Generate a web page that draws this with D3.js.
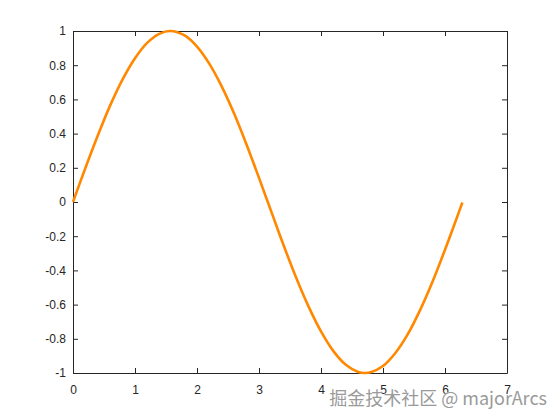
<!DOCTYPE html>
<html><head><meta charset="utf-8">
<script src="https://cdn.jsdelivr.net/npm/d3@7"></script>
<style>html,body{margin:0;padding:0;background:#fff;}svg{display:block;}</style>
</head><body>
<svg id="c" width="560" height="420"></svg>
<script>
const xValues = [0,0.2,0.4,0.6,0.8,1.0,1.2,1.4,1.57,1.8,2.0,2.2,2.4,2.6,2.8,3.0,3.2,3.4,3.6,3.8,4.0,4.2,4.4,4.6,4.71,4.8,5.0,5.2,5.4,5.6,5.8,6.0,6.2,6.28];
const yValues = [0,0.199,0.389,0.565,0.717,0.841,0.932,0.985,1.0,0.974,0.909,0.808,0.675,0.516,0.335,0.141,-0.058,-0.256,-0.443,-0.612,-0.757,-0.872,-0.952,-0.994,-1.0,-0.996,-0.959,-0.883,-0.773,-0.631,-0.465,-0.279,-0.083,-0.003];
const xTicks = [0,1,2,3,4,5,6,7];
const yTicks = [-1,-0.8,-0.6,-0.4,-0.2,0,0.2,0.4,0.6,0.8,1];
const watermark = "掘金技术社区 @ majorArcs";

const L=73,R=507,T=31,B=373;
const svg=d3.select("#c");
const x=d3.scaleLinear().domain([0,7]).range([L,R]);
const y=d3.scaleLinear().domain([-1,1]).range([B,T]);
const font="Liberation Sans, Arial, sans-serif";
const tl=5;

const fmt=d=>String(d);
const axB=svg.append("g").attr("transform",`translate(0,${B})`).call(d3.axisBottom(x).tickValues(xTicks).tickFormat(fmt).tickSizeInner(-tl).tickSizeOuter(0).tickPadding(12));
const axT=svg.append("g").attr("transform",`translate(0,${T})`).call(d3.axisTop(x).tickValues(xTicks).tickFormat("").tickSizeInner(-tl).tickSizeOuter(0));
const axLft=svg.append("g").attr("transform",`translate(${L},0)`).call(d3.axisLeft(y).tickValues(yTicks).tickFormat(fmt).tickSizeInner(-tl).tickSizeOuter(0).tickPadding(7));
const axRt=svg.append("g").attr("transform",`translate(${R},0)`).call(d3.axisRight(y).tickValues(yTicks).tickFormat("").tickSizeInner(-tl).tickSizeOuter(0));
[axB,axT,axLft,axRt].forEach(g=>{
  g.selectAll("path.domain").attr("stroke","#262626").attr("stroke-width",1);
  g.selectAll(".tick line").attr("stroke","#262626").attr("stroke-width",1);
  g.selectAll("text").attr("fill","#262626").style("font-family",font).style("font-size","12px");
});

const line=d3.line().x((d,i)=>x(xValues[i])).y(d=>y(d)).curve(d3.curveCatmullRom.alpha(0.5));
svg.append("path").datum(yValues).attr("d",line).attr("fill","none")
  .attr("stroke","#ff8800").attr("stroke-width",2.6).attr("stroke-linejoin","round").attr("stroke-linecap","butt");

svg.append("text").attr("x",547).attr("y",405).attr("text-anchor","end")
  .style("font-family","Noto Sans CJK SC, sans-serif").style("font-size","18px")
  .attr("fill","#9a9a9a").attr("stroke","#ffffff").attr("stroke-width",0.5).attr("paint-order","stroke")
  .text(watermark);
</script>
</body></html>
